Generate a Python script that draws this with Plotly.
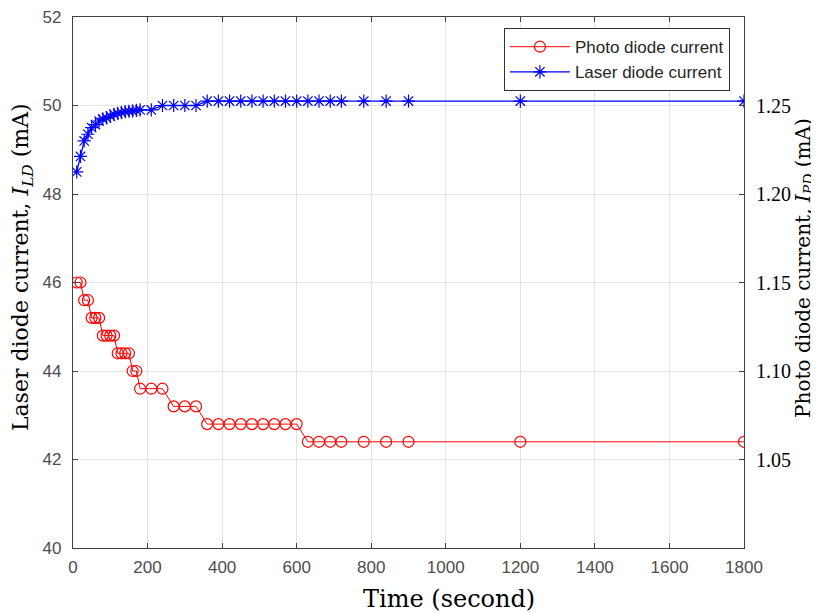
import plotly.graph_objects as go

# Time samples (second)
time_s = [10, 20, 30, 40, 50, 60, 70, 80, 90, 100, 110, 120, 130, 140, 150, 160, 170,
          180, 210, 240, 270, 300, 330, 360, 390, 420, 450, 480, 510, 540, 570, 600,
          630, 660, 690, 720, 780, 840, 900, 1200, 1800]

# Photo diode current I_PD (mA) - right axis
photo_diode = [1.15, 1.15, 1.14, 1.14, 1.13, 1.13, 1.13, 1.12, 1.12, 1.12, 1.12,
               1.11, 1.11, 1.11, 1.11, 1.10, 1.10,
               1.09, 1.09, 1.09, 1.08, 1.08, 1.08,
               1.07, 1.07, 1.07, 1.07, 1.07, 1.07, 1.07, 1.07, 1.07,
               1.06, 1.06, 1.06, 1.06, 1.06, 1.06, 1.06, 1.06, 1.06]

# Laser diode current I_LD (mA) - left axis
laser_diode = [48.5, 48.85, 49.2, 49.35, 49.5, 49.57, 49.65, 49.7, 49.72, 49.76, 49.8,
               49.82, 49.84, 49.86, 49.87, 49.88, 49.89,
               49.9, 49.9, 50.0, 50.0, 50.0, 50.0,
               50.1, 50.1, 50.1, 50.1, 50.1, 50.1, 50.1, 50.1, 50.1,
               50.1, 50.1, 50.1, 50.1, 50.1, 50.1, 50.1, 50.1, 50.1]

x_ticks = [0, 200, 400, 600, 800, 1000, 1200, 1400, 1600, 1800]
left_ticks = [40, 42, 44, 46, 48, 50, 52]
right_ticks = [1.05, 1.10, 1.15, 1.20, 1.25]
right_tick_text = ["1.05", "1.10", "1.15", "1.20", "1.25"]

x_title = "Time (second)"
left_title = "Laser diode current, <i>I<sub>LD</sub></i> (mA)"
right_title = "Photo diode current, <i>I<sub>PD</sub></i> (mA)"

AX = "#404040"
TICKC = "#4d4d4d"
GRID = "#e3e3e3"
SERIF = "DejaVu Serif, serif"
SERIF2 = "Liberation Serif, Times New Roman, serif"
SANS = "Liberation Sans, Arial, sans-serif"

fig = go.Figure()
fig.add_trace(go.Scatter(
    x=time_s, y=photo_diode, name="Photo diode current", yaxis="y2",
    mode="lines+markers",
    line=dict(color="#ff0000", width=1),
    marker=dict(symbol="circle-open", size=11, color="#ff0000",
                line=dict(color="#ff0000", width=1.2)),
))
fig.add_trace(go.Scatter(
    x=time_s, y=laser_diode, name="Laser diode current", yaxis="y",
    mode="lines+markers",
    line=dict(color="#0000ff", width=1.3),
    marker=dict(symbol="asterisk-open", size=11, color="#0000ff",
                line=dict(color="#0000ff", width=1.2)),
))

# The page body adds an 8px margin, so the figure is sized 8px smaller
fig.update_layout(
    width=811, height=605,
    margin=dict(l=65, r=75, t=9, b=65, autoexpand=False),
    paper_bgcolor="white", plot_bgcolor="white",
    showlegend=True,
    legend=dict(x=0.979, y=0.979, xanchor="right", yanchor="top",
                bgcolor="white", bordercolor="#333333", borderwidth=1,
                font=dict(family=SANS, size=17, color="#262626"),
                tracegroupgap=0, itemwidth=60),
    xaxis=dict(
        range=[0, 1800], tickvals=x_ticks, ticktext=[str(v) for v in x_ticks],
        showgrid=True, gridcolor=GRID, gridwidth=1,
        showline=True, linecolor=AX, linewidth=1.2, mirror="ticks",
        ticks="inside", ticklen=5, tickcolor=AX, ticklabelstandoff=3,
        ticklabeloverflow="allow",
        tickfont=dict(family=SANS, size=17, color=TICKC),
        zeroline=False, automargin=False,
    ),
    yaxis=dict(
        range=[40, 52], tickvals=left_ticks, ticktext=[str(v) for v in left_ticks],
        showgrid=True, gridcolor=GRID, gridwidth=1,
        showline=True, linecolor=AX, linewidth=1.2,
        ticks="inside", ticklen=5, tickcolor=AX, ticklabelstandoff=7,
        ticklabeloverflow="allow",
        tickfont=dict(family=SANS, size=17, color=TICKC),
        zeroline=False, automargin=False,
    ),
    yaxis2=dict(
        range=[1.0, 1.3], tickvals=right_ticks, ticktext=right_tick_text,
        overlaying="y", side="right", showgrid=False,
        showline=True, linecolor=AX, linewidth=1.2,
        ticks="inside", ticklen=5, tickcolor=AX, ticklabelstandoff=7,
        ticklabeloverflow="allow",
        tickfont=dict(family=SERIF2, size=20, color="#000000"),
        zeroline=False, automargin=False,
    ),
    annotations=[
        dict(text=x_title, xref="paper", yref="paper", x=0.560, y=-0.096,
             xanchor="center", yanchor="middle", showarrow=False,
             font=dict(family=SERIF, size=24, color="#000000")),
        dict(text=left_title, xref="paper", yref="paper", x=-0.076, y=0.529,
             xanchor="center", yanchor="middle", showarrow=False, textangle=-90,
             font=dict(family=SERIF, size=22, color="#000000")),
        dict(text=right_title, xref="paper", yref="paper", x=1.089, y=0.527,
             xanchor="center", yanchor="middle", showarrow=False, textangle=-90,
             font=dict(family=SERIF, size=20, color="#000000")),
    ],
)

fig.write_html("out.html")
